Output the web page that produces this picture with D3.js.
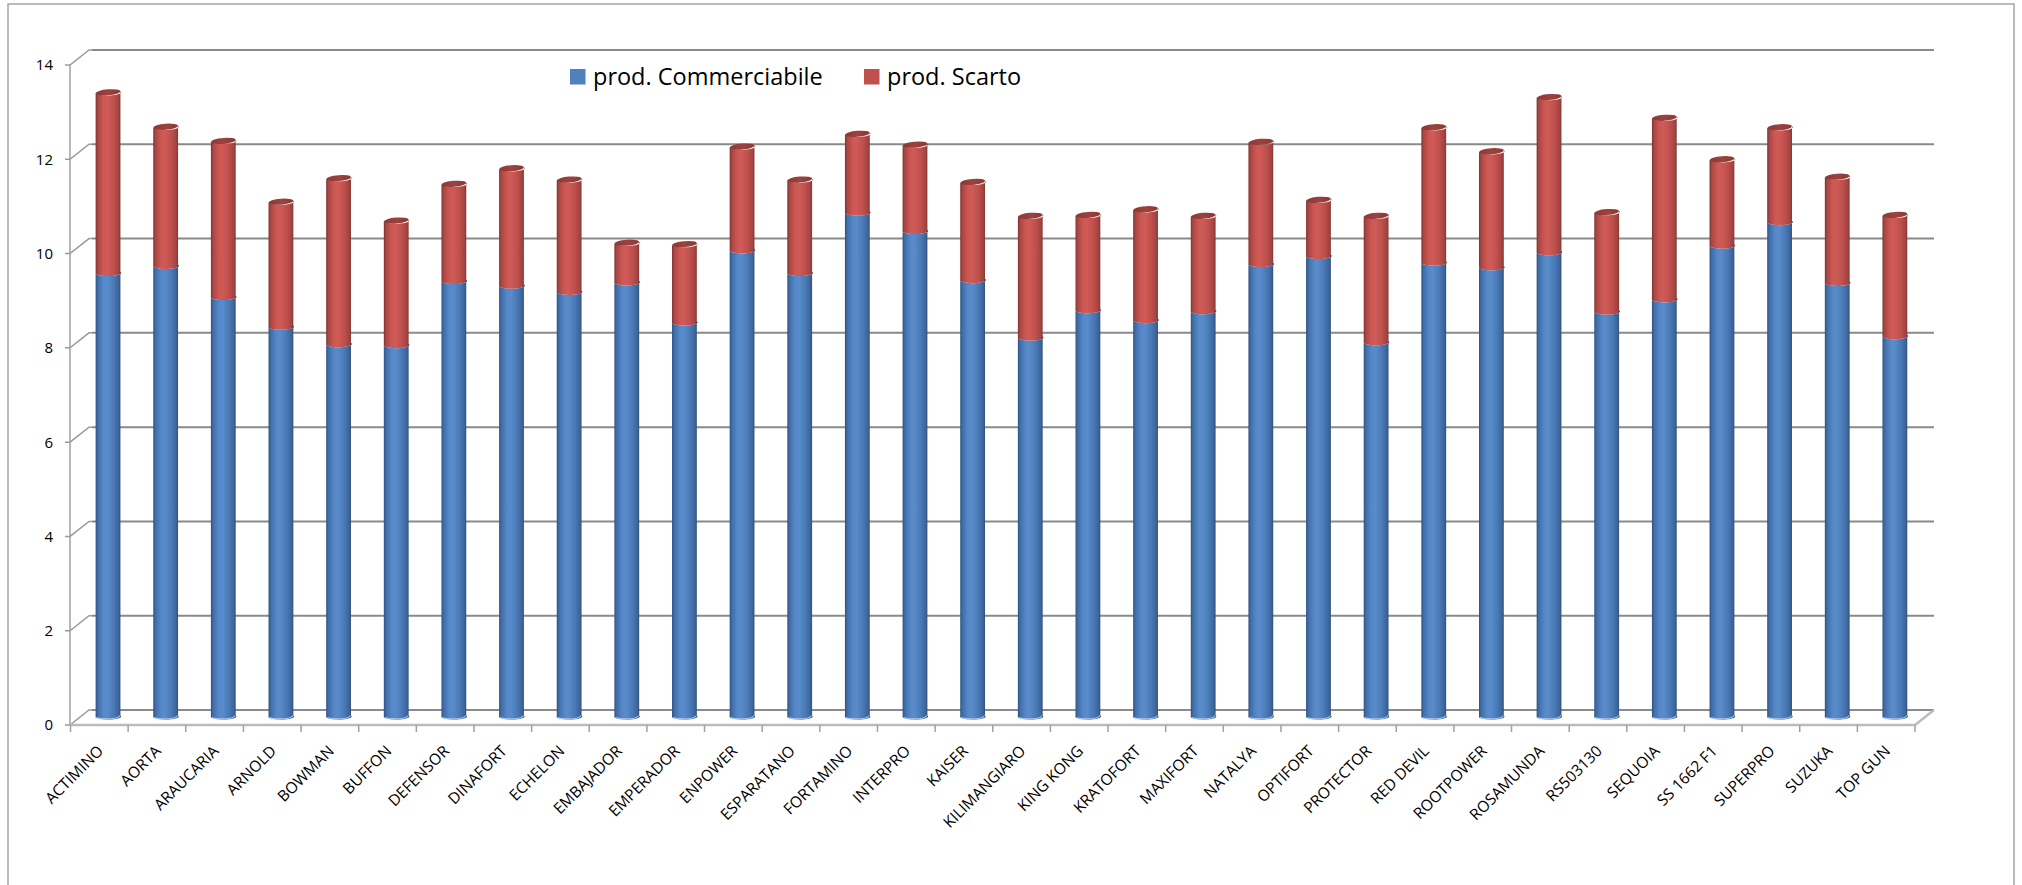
<!DOCTYPE html>
<html>
<head>
<meta charset="utf-8">
<script src="https://cdn.jsdelivr.net/npm/d3@7"></script>
<style>
  html, body { margin: 0; padding: 0; background: #fff; }
  svg { display: block; }
  text { font-family: "Open Sans", "Liberation Sans", sans-serif; fill: #000; }
</style>
</head>
<body>
<svg id="chart" width="2022" height="885"></svg>
<script>
const categories = ["ACTIMINO","AORTA","ARAUCARIA","ARNOLD","BOWMAN","BUFFON","DEFENSOR","DINAFORT","ECHELON","EMBAJADOR","EMPERADOR","ENPOWER","ESPARATANO","FORTAMINO","INTERPRO","KAISER","KILIMANGIARO","KING KONG","KRATOFORT","MAXIFORT","NATALYA","OPTIFORT","PROTECTOR","RED DEVIL","ROOTPOWER","ROSAMUNDA","RS503130","SEQUOIA","SS 1662 F1","SUPERPRO","SUZUKA","TOP GUN"];
const commerciabile = [9.41,9.56,8.90,8.27,7.90,7.88,9.24,9.14,9.01,9.21,8.36,9.89,9.41,10.69,10.30,9.26,8.04,8.62,8.41,8.60,9.60,9.77,7.94,9.63,9.53,9.85,8.59,8.85,9.99,10.49,9.20,8.07];
const scarto = [3.83,2.95,3.31,2.65,3.52,2.64,2.06,2.49,2.38,0.84,1.66,2.20,1.98,1.67,1.83,2.08,2.58,2.02,2.35,2.02,2.59,1.19,2.68,2.87,2.46,3.29,2.11,3.85,1.83,2.01,2.25,2.57];
const seriesNames = ["prod. Commerciabile","prod. Scarto"];
const yTicks = [0,2,4,6,8,10,12,14];

const svg = d3.select("#chart");

// 3D layout: front plane, bar plane and back wall are offsets of the same scales
const y = d3.scaleLinear().domain([0,14]).range([725,65]);
const x = d3.scaleBand().domain(categories).range([70.5,1915]).padding(0);
const backDX = 22, backDY = -15;   // back wall
const barDX = 8.7, barDY = -8.5;   // bar plane
const rx = 12.4, ry = 3;

const defs = svg.append("defs");
function grad(id, stops){
  const g = defs.append("linearGradient").attr("id", id).attr("x1","0").attr("x2","1").attr("y1","0").attr("y2","0");
  stops.forEach(s => g.append("stop").attr("offset", s[0]).attr("stop-color", s[1]));
}
grad("gBlue", [["0%","#2c5182"],["8%","#3f6ca6"],["30%","#5588c8"],["45%","#5a8ccb"],["70%","#4a7bb8"],["90%","#3d6599"],["100%","#2a4a75"]]);
grad("gRed",  [["0%","#7d3230"],["8%","#a84643"],["30%","#cc5753"],["45%","#cf5b57"],["70%","#c0504d"],["90%","#a24441"],["100%","#7a312f"]]);
grad("gCap",  [["0%","#8a3836"],["50%","#9c423f"],["100%","#8a3836"]]);

// outer frame
svg.append("path")
  .attr("d","M8,885 L8,4 L2014,4 L2014,885")
  .attr("fill","none").attr("stroke","#a6a6a6").attr("stroke-width",1.5);

// back wall gridlines
svg.append("g").selectAll("line").data(yTicks).join("line")
  .attr("x1", 70 + backDX).attr("x2", 1934)
  .attr("y1", d => y(d) + backDY).attr("y2", d => y(d) + backDY)
  .attr("stroke","#8a8a8a").attr("stroke-width",2);

// left wall connectors
svg.append("g").selectAll("path").data(yTicks).join("path")
  .attr("d", d => `M65,${y(d)} L70,${y(d)} L${70+backDX-3},${y(d)+backDY} L${70+backDX},${y(d)+backDY}`)
  .attr("fill","none").attr("stroke","#9a9a9a").attr("stroke-width",1.5);

// front vertical axis line
svg.append("line").attr("x1",70).attr("x2",70).attr("y1",y(14)).attr("y2",y(0))
  .attr("stroke","#a0a0a0").attr("stroke-width",1.5);

// floor front edge and right side
svg.append("path")
  .attr("d", `M70,${y(0)} L1915,${y(0)} L1934,${y(0)+backDY}`)
  .attr("fill","none").attr("stroke","#bcbcbc").attr("stroke-width",2.5);

// category ticks
svg.append("g").selectAll("line").data(d3.range(categories.length+1)).join("line")
  .attr("x1", i => 70.5 + i*x.bandwidth()).attr("x2", i => 70.5 + i*x.bandwidth())
  .attr("y1", y(0)).attr("y2", y(0)+7)
  .attr("stroke","#a0a0a0").attr("stroke-width",1.5);

// stacked data
const table = categories.map((c,i) => ({cat:c, c:commerciabile[i], s:scarto[i]}));
const stack = d3.stack().keys(["c","s"])(table);

function body(cx, yLow, yHigh){
  const L = cx - rx, R = cx + rx, t = 1;
  return `M${L},${yHigh+t} L${L},${yLow+t} A${rx},${ry} 0 0 0 ${R},${yLow-t} L${R},${yHigh-t} A${rx},${ry} 0 0 1 ${L},${yHigh+t} Z`;
}
const cxOf = c => x(c) + x.bandwidth()/2 + barDX;
const yb = v => y(v) + barDY;

const fills = ["url(#gBlue)","url(#gRed)"];
stack.forEach((layer, k) => {
  svg.append("g").selectAll("path").data(layer).join("path")
    .attr("d", d => body(cxOf(d.data.cat), yb(d[0]), yb(d[1])))
    .attr("fill", fills[k]);
});
// bottom light rim
svg.append("g").selectAll("path").data(stack[0]).join("path")
  .attr("d", d => { const cx = cxOf(d.data.cat); return `M${cx-rx+1},${yb(0)+1} A${rx},${ry} 0 0 0 ${cx+rx-1},${yb(0)-1}`; })
  .attr("fill","none").attr("stroke","#a9c3e4").attr("stroke-width",1.2);
// top caps
svg.append("g").selectAll("ellipse").data(stack[1]).join("ellipse")
  .attr("cx", 0).attr("cy", 0).attr("rx", rx).attr("ry", ry)
  .attr("transform", d => `translate(${cxOf(d.data.cat)},${yb(d[1])}) rotate(-4.6)`)
  .attr("fill","url(#gCap)");

// y axis labels
svg.append("g").selectAll("text").data(yTicks).join("text")
  .attr("x", 53).attr("y", d => y(d)).attr("dy","0.36em")
  .attr("text-anchor","end").style("font-size","15px")
  .text(d => d);

// category labels
svg.append("g").selectAll("text").data(categories).join("text")
  .attr("transform", c => `translate(${x(c)+x.bandwidth()/2+5},752) rotate(-45)`)
  .attr("text-anchor","end").style("font-size","15.5px")
  .text(c => c);

// legend
const legend = [{name:seriesNames[0], color:"#4f81bd", x:570},{name:seriesNames[1], color:"#c0504d", x:864}];
const lg = svg.append("g").selectAll("g").data(legend).join("g")
  .attr("transform", d => `translate(${d.x},69)`);
lg.append("rect").attr("width",15.5).attr("height",15.5).attr("fill", d => d.color);
lg.append("text").attr("x",23).attr("y",16).style("font-size","23.5px").text(d => d.name);
</script>
</body>
</html>
